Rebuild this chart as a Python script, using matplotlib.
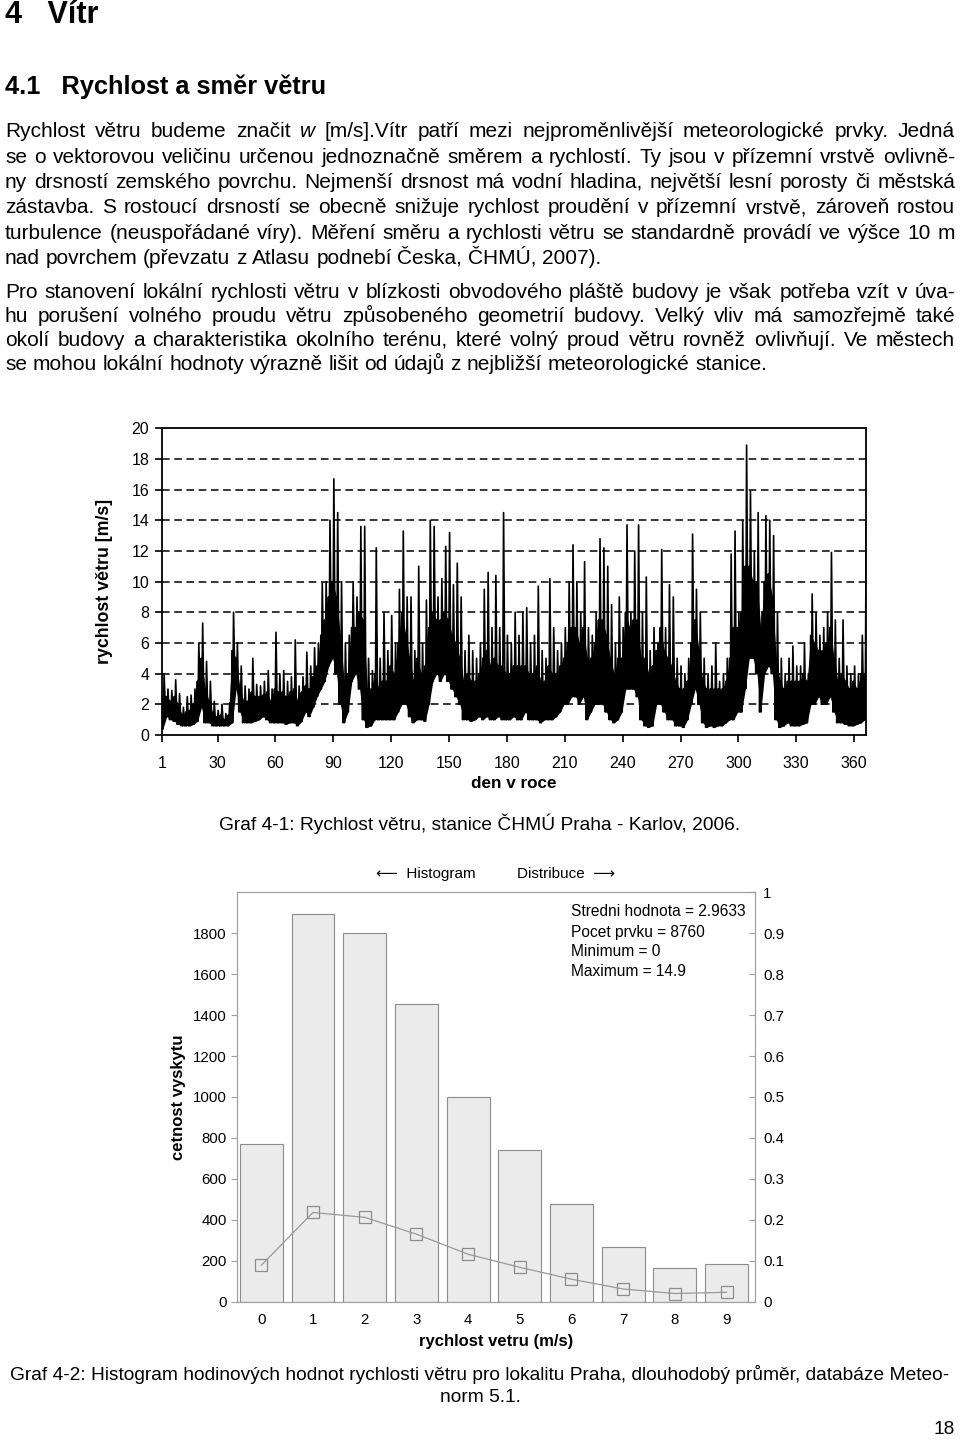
import numpy as np
import matplotlib
matplotlib.use('Agg')
import matplotlib.pyplot as plt

plt.rcParams['font.family'] = ['Liberation Sans', 'DejaVu Sans']

# Graf 4-1: rychlost vetru po dvou dnech
# maxima (spicky), bezna horni hranice "hmoty" a minima
vitr_max = [
    4.0, 3.0, 2.9, 3.6, 2.7, 1.8, 2.5, 2.6, 3.0, 6.0, 7.3, 4.8, 3.5, 2.2, 1.6,
    2.0, 1.4, 2.1, 8.0, 6.0, 4.5, 3.2, 3.0, 5.0, 3.3, 3.2, 3.5, 4.2, 3.0, 6.7,
    4.0, 4.2, 3.5, 3.8, 6.2, 3.2, 3.8, 5.4, 4.5, 5.7, 6.0, 9.9, 10.0, 14.0, 16.7,
    14.5, 10.0, 6.0, 6.5, 10.0, 9.0, 13.6, 13.6, 5.0, 4.2, 12.2, 5.0, 8.0, 5.5, 7.8,
    6.0, 9.5, 13.3, 9.0, 9.0, 5.5, 11.0, 6.0, 8.8, 14.0, 13.6, 9.0, 10.2, 12.3, 13.2,
    9.8, 11.2, 9.0, 5.5, 6.5, 5.5, 5.0, 6.0, 9.5, 10.6, 7.0, 10.4, 7.0, 14.5, 6.5,
    6.0, 8.0, 6.5, 8.0, 8.3, 6.0, 6.5, 9.7, 5.5, 5.0, 10.2, 7.0, 5.5, 6.0, 7.0,
    10.0, 12.4, 10.0, 8.0, 11.3, 7.0, 6.5, 8.0, 12.8, 12.2, 11.0, 8.5, 6.0, 9.0, 7.0,
    13.7, 8.0, 12.0, 13.7, 8.0, 10.3, 5.5, 7.0, 6.0, 12.1, 7.0, 9.8, 9.0, 5.0, 4.5,
    4.0, 5.0, 13.1, 9.5, 8.0, 5.0, 4.0, 4.5, 6.0, 3.5, 4.0, 5.0, 11.8, 13.3, 8.0,
    14.0, 18.9, 15.9, 12.0, 14.5, 8.0, 14.3, 14.0, 13.0, 8.0, 5.0, 4.0, 5.0, 5.8, 4.5,
    4.5, 6.0, 4.0, 9.2, 8.0, 6.5, 7.0, 8.0, 11.9, 7.5, 5.0, 7.5, 4.5, 4.0, 4.5, 4.0, 6.5, 14.0,
]
vitr_typ = [
    2.5, 2.5, 2.2, 2.5, 2.0, 1.3, 1.5, 1.6, 2.0, 3.5, 5.0, 3.0, 2.2, 1.4, 1.2,
    1.3, 1.0, 1.3, 5.5, 5.0, 3.0, 2.2, 2.2, 2.8, 2.5, 2.5, 2.6, 2.8, 2.2, 3.0,
    2.8, 2.8, 2.5, 2.8, 3.0, 2.2, 2.8, 3.2, 3.0, 3.8, 4.5, 6.5, 7.5, 9.0, 10.0,
    9.0, 6.5, 3.5, 4.0, 7.0, 7.0, 8.0, 7.5, 3.0, 3.0, 4.0, 3.0, 3.5, 3.5, 4.5,
    4.0, 6.0, 8.0, 6.5, 5.0, 3.5, 5.0, 4.0, 4.5, 7.0, 8.0, 7.5, 7.5, 8.0, 7.5,
    6.5, 6.0, 5.0, 3.5, 4.0, 3.5, 3.5, 4.0, 5.0, 5.5, 4.5, 5.0, 4.5, 4.5, 4.0,
    4.0, 4.5, 4.5, 4.5, 4.5, 4.0, 4.0, 4.5, 3.5, 3.5, 4.5, 4.0, 4.0, 4.5, 5.0,
    6.0, 7.0, 7.0, 6.0, 7.0, 5.0, 5.0, 6.0, 7.5, 7.5, 6.5, 5.0, 4.0, 5.0, 5.0,
    8.0, 7.0, 7.5, 7.5, 5.0, 5.0, 4.0, 4.5, 5.5, 7.0, 5.5, 5.0, 4.5, 3.5, 3.0,
    3.0, 3.5, 6.0, 7.5, 5.5, 3.5, 3.0, 3.0, 3.0, 3.0, 3.0, 3.5, 5.0, 7.0, 7.0,
    8.0, 11.0, 11.0, 10.0, 10.0, 7.0, 10.0, 10.5, 9.0, 5.0, 3.5, 3.0, 3.5, 3.5, 3.5,
    3.5, 4.0, 3.5, 6.5, 6.0, 5.5, 5.5, 6.0, 7.0, 5.0, 3.5, 4.0, 3.5, 3.0, 3.5, 3.0, 4.0, 4.0,
]
vitr_min = [
    0.4, 1.2, 1.0, 0.9, 0.7, 0.6, 0.6, 0.6, 0.7, 0.9, 1.8, 0.8, 0.8, 0.6, 0.6,
    0.6, 0.6, 0.6, 0.8, 3.0, 1.5, 0.8, 0.8, 0.8, 0.9, 1.0, 1.2, 1.0, 0.8, 0.8,
    0.8, 0.8, 0.7, 0.8, 0.8, 0.6, 0.9, 1.5, 1.2, 1.8, 2.5, 3.0, 3.5, 4.5, 5.0,
    4.0, 2.0, 0.8, 1.5, 3.5, 4.0, 3.0, 1.0, 0.5, 0.6, 1.0, 1.0, 1.0, 1.0, 1.0,
    1.0, 1.5, 2.0, 2.0, 1.2, 0.8, 1.0, 1.0, 0.9, 2.0, 3.5, 4.0, 3.5, 4.0, 3.5,
    3.0, 2.5, 2.0, 1.0, 1.0, 0.9, 1.0, 1.2, 1.0, 1.2, 1.0, 1.0, 1.2, 1.0, 1.0,
    1.0, 1.2, 1.0, 1.0, 1.5, 1.0, 1.0, 1.0, 0.8, 1.0, 1.0, 1.0, 1.2, 1.5, 2.0,
    2.0, 2.5, 2.5, 2.0, 2.5, 1.0, 1.5, 2.0, 2.0, 2.0, 1.5, 1.0, 0.8, 1.0, 1.5,
    3.0, 3.0, 3.0, 2.5, 1.0, 0.6, 0.5, 0.6, 2.0, 2.0, 1.5, 1.0, 1.0, 0.6, 0.6,
    0.5, 1.0, 2.0, 3.0, 2.0, 0.8, 0.5, 0.6, 0.5, 0.6, 0.6, 0.8, 1.0, 1.0, 1.5,
    1.5, 3.0, 5.0, 5.0, 4.0, 1.5, 4.0, 4.5, 4.0, 1.0, 0.5, 0.6, 0.8, 0.6, 0.6,
    0.6, 0.7, 0.8, 2.0, 2.0, 2.5, 2.0, 2.0, 2.5, 1.5, 0.8, 0.8, 0.7, 0.6, 0.6, 0.7, 0.8, 1.0,
]
den_ticks = [1, 30, 60, 90, 120, 150, 180, 210, 240, 270, 300, 330, 360]

# Graf 4-2: histogram a distribuce
rychlost = [0, 1, 2, 3, 4, 5, 6, 7, 8, 9]
cetnost = [771, 1894, 1802, 1455, 999, 742, 476, 265, 167, 184]
distribuce = [0.089, 0.218, 0.206, 0.165, 0.116, 0.084, 0.055, 0.031, 0.020, 0.023]
statistiky = ['Stredni hodnota = 2.9633', 'Pocet prvku = 8760', 'Minimum = 0', 'Maximum = 14.9']

odstavec1 = [
    'Rychlost větru budeme značit *w* [m/s].Vítr patří mezi nejproměnlivější meteorologické prvky. Jedná',
    'se o vektorovou veličinu určenou jednoznačně směrem a rychlostí. Ty jsou v přízemní vrstvě ovlivně-',
    'ny drsností zemského povrchu. Nejmenší drsnost má vodní hladina, největší lesní porosty či městská',
    'zástavba. S rostoucí drsností se obecně snižuje rychlost proudění v přízemní vrstvě, zároveň rostou',
    'turbulence (neuspořádané víry). Měření směru a rychlosti větru se standardně provádí ve výšce 10 m',
    'nad povrchem (převzatu z Atlasu podnebí Česka, ČHMÚ, 2007).',
]
odstavec2 = [
    'Pro stanovení lokální rychlosti větru v blízkosti obvodového pláště budovy je však potřeba vzít v úva-',
    'hu porušení volného proudu větru způsobeného geometrií budovy. Velký vliv má samozřejmě také',
    'okolí budovy a charakteristika okolního terénu, které volný proud větru rovněž ovlivňují. Ve městech',
    'se mohou lokální hodnoty výrazně lišit od údajů z nejbližší meteorologické stanice.',
]

W, H = 960, 1440
fig = plt.figure(figsize=(W / 100, H / 100), dpi=100)
rend = fig.canvas.get_renderer()


def fy(ypx): return 1 - ypx / H


def radek(text, ypx, x0=5, x1=955, size=15.0, zarovnat=True):
    # jeden radek odstavce, zarovnany do bloku po slovech (ypx = uckari)
    slova = text.split(' ')
    arts = []
    for s in slova:
        styl = 'normal'
        if s.startswith('*') and s.endswith('*'):
            s, styl = s.strip('*'), 'italic'
        arts.append(fig.text(0, fy(ypx), s, fontsize=size, style=styl, va='baseline', ha='left'))
    sirky = [a.get_window_extent(rend).width for a in arts]
    t1 = fig.text(0, 0, 'a a', fontsize=size)
    t2 = fig.text(0, 0, 'aa', fontsize=size)
    mezera = t1.get_window_extent(rend).width - t2.get_window_extent(rend).width
    t1.remove()
    t2.remove()
    if zarovnat and len(slova) > 1:
        mezera = (x1 - x0 - sum(sirky)) / (len(slova) - 1)
    x = x0
    for a, w in zip(arts, sirky):
        a.set_x(x / W)
        x += w + mezera


fig.text(5 / W, fy(15), '4   Vítr', fontsize=22, fontweight='bold', va='center')
fig.text(5 / W, fy(87), '4.1   Rychlost a směr větru', fontsize=18.3, fontweight='bold', va='center')

for i, (t, y) in enumerate(zip(odstavec1, [137, 163, 188, 213, 239, 264])):
    radek(t, y, zarovnat=i < len(odstavec1) - 1)
for i, (t, y) in enumerate(zip(odstavec2, [298, 322, 346, 370])):
    radek(t, y, zarovnat=i < len(odstavec2) - 1)

# ---- Graf 4-1 ----
ax1 = fig.add_axes([161.7 / W, fy(735), 704 / W, 306.7 / H])
dny = np.arange(1, 366, 2)
# v kazdem dvoudennim useku: minimum -> bezna hodnota -> minimum -> spicka
xs = np.column_stack([dny, dny + 0.5, dny + 0.75, dny + 1.25]).ravel()
ys = np.column_stack([vitr_min, vitr_typ, vitr_min, vitr_max]).ravel()
for g in range(2, 20, 2):
    ax1.axhline(g, color='black', lw=1.1, ls=(0, (5, 3)), zorder=1)
ax1.fill_between(dny + 0.6, vitr_min, vitr_typ, color='black', lw=0, zorder=2)
ax1.plot(xs, ys, color='black', lw=1.2, zorder=3)
ax1.set_xlim(1, 366)
ax1.set_ylim(0, 20)
ax1.set_yticks(range(0, 21, 2))
ax1.set_xticks(den_ticks)
for s in ax1.spines.values():
    s.set_linewidth(1.3)
ax1.tick_params(direction='out', length=5, width=1.2, labelsize=11.5, pad=4)
ax1.tick_params(axis='x', pad=10)
ax1.set_xlabel('den v roce', fontsize=12.3, fontweight='bold', labelpad=4)
ax1.set_ylabel('rychlost větru [m/s]', fontsize=12.8, fontweight='bold', labelpad=13)

fig.text(480 / W, fy(824), 'Graf 4-1: Rychlost větru, stanice ČHMÚ Praha - Karlov, 2006.',
         fontsize=13.8, ha='center', va='center')

# ---- Graf 4-2 ----
sed = '#a0a0a0'
ax2 = fig.add_axes([237 / W, fy(1301.7), 518 / W, 409.4 / H])
ax2.bar(rychlost, cetnost, width=0.83, color='#ebebeb', edgecolor='#8c8c8c', linewidth=0.8, zorder=1)
ax2.set_xlim(-0.47, 9.55)
ax2.set_ylim(0, 2000)
ax2.set_yticks(range(0, 1801, 200))
ax2.set_xticks(rychlost)
for s in ax2.spines.values():
    s.set_color(sed)
ax2.tick_params(direction='out', length=4, color=sed, labelsize=10.8)
ax2.tick_params(axis='x', length=0, pad=8)
ax2.set_xlabel('rychlost vetru (m/s)', fontsize=12, fontweight='bold', labelpad=5)
ax2.set_ylabel('cetnost vyskytu', fontsize=12, fontweight='bold', labelpad=5)

ax3 = ax2.twinx()
ax3.plot(rychlost, distribuce, color='#9a9a9a', lw=0.9, marker='s', ms=8,
         mfc='none', mec='#8c8c8c', mew=0.9)
ax3.set_ylim(0, 1)
ax3.set_yticks(np.round(np.arange(0, 1.01, 0.1), 1))
ax3.set_yticklabels(['0', '0.1', '0.2', '0.3', '0.4', '0.5', '0.6', '0.7', '0.8', '0.9', '1'])
for s in ax3.spines.values():
    s.set_color(sed)
ax3.tick_params(direction='in', length=4, color=sed, labelsize=10.8, pad=6)

fig.text(376 / W, fy(874), '⟵  Histogram', fontsize=11, va='center')
fig.text(517 / W, fy(874), 'Distribuce  ⟶', fontsize=11, va='center')
for t, y in zip(statistiky, [912, 932, 952, 972]):
    fig.text(571 / W, fy(y), t, fontsize=11.2, va='center')

fig.text(480 / W, fy(1374), 'Graf 4-2: Histogram hodinových hodnot rychlosti větru pro lokalitu Praha, '
         'dlouhodobý průměr, databáze Meteo-', fontsize=13.8, ha='center', va='center')
fig.text(480 / W, fy(1397), 'norm 5.1.', fontsize=13.8, ha='center', va='center')
fig.text(955 / W, fy(1430), '18', fontsize=13.8, ha='right', va='center')

fig.savefig('out.png', dpi=100)
